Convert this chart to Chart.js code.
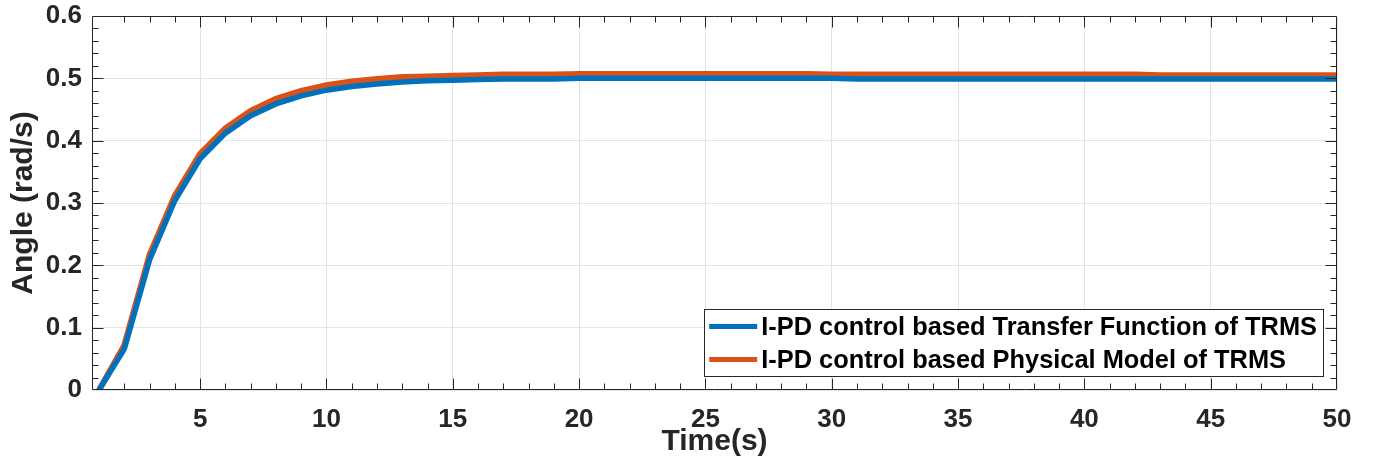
<!DOCTYPE html>
<html>
<head>
<meta charset="utf-8">
<script src="https://cdn.jsdelivr.net/npm/chart.js@4.4.0/dist/chart.umd.min.js"></script>
<style>
    html, body { margin: 0; padding: 0; background: #fff; }
</style>
</head>
<body>
<canvas id="angleChart" width="1373" height="465"></canvas>
<script>
/* data */
const timeValues = [1, 2, 3, 4, 5, 6, 7, 8, 9, 10, 11, 12, 13, 14, 15, 16, 17, 18, 19, 20,
    21, 22, 23, 24, 25, 26, 27, 28, 29, 30, 31, 32, 33, 34, 35, 36, 37, 38, 39, 40,
    41, 42, 43, 44, 45, 46, 47, 48, 49, 50];

const transferFunctionAngle = [0, 0.066, 0.209, 0.304, 0.371, 0.412, 0.440, 0.459, 0.472, 0.481,
    0.487, 0.491, 0.494, 0.496, 0.497, 0.498, 0.499, 0.499, 0.499, 0.500,
    0.500, 0.500, 0.500, 0.500, 0.500, 0.500, 0.500, 0.500, 0.500, 0.500,
    0.499, 0.499, 0.499, 0.499, 0.499, 0.499, 0.499, 0.499, 0.499, 0.499,
    0.499, 0.499, 0.499, 0.499, 0.499, 0.499, 0.499, 0.499, 0.499, 0.499];

const physicalModelAngle = [0, 0.072, 0.217, 0.312, 0.379, 0.420, 0.448, 0.467, 0.480, 0.489,
    0.495, 0.499, 0.502, 0.503, 0.504, 0.505, 0.506, 0.506, 0.506, 0.507,
    0.507, 0.507, 0.507, 0.507, 0.507, 0.507, 0.507, 0.507, 0.507, 0.506,
    0.506, 0.506, 0.506, 0.506, 0.506, 0.506, 0.506, 0.506, 0.506, 0.506,
    0.506, 0.506, 0.505, 0.505, 0.505, 0.505, 0.505, 0.505, 0.505, 0.505];

const seriesLabels = [
    "I-PD control based Transfer Function of TRMS",
    "I-PD control based Physical Model of TRMS"
];
const seriesColors = ["#0072BD", "#D95319"];

const xTickValues = [5, 10, 15, 20, 25, 30, 35, 40, 45, 50];
const yTickValues = [0, 0.1, 0.2, 0.3, 0.4, 0.5, 0.6];
const yTickLabels = ["0", "0.1", "0.2", "0.3", "0.4", "0.5", "0.6"];

/* style */
const fontFamily = "'Liberation Sans', Arial, Helvetica, sans-serif";
const axisColor = "#262626";
const gridColor = "#e3e3e3";

Chart.defaults.font.family = fontFamily;
Chart.defaults.font.weight = "bold";
Chart.defaults.color = axisColor;

/* matlab-like box with inward ticks */
const axesBox = {
    id: "axesBox",
    afterDatasetsDraw(chart) {
        const { ctx, chartArea: a, scales: { x, y } } = chart;
        const left = Math.round(a.left) + 0.5;
        const right = Math.round(a.right) - 0.5;
        const top = Math.round(a.top) + 0.5;
        const bottom = Math.round(a.bottom) - 0.5;

        ctx.save();
        ctx.strokeStyle = axisColor;
        ctx.lineWidth = 1;
        ctx.beginPath();

        for (let t = 2; t < 50; t++) {
            const len = t % 5 === 0 ? 11 : 6;
            const px = Math.round(x.getPixelForValue(t)) + 0.5;
            ctx.moveTo(px, bottom);
            ctx.lineTo(px, bottom - len);
            ctx.moveTo(px, top);
            ctx.lineTo(px, top + len);
        }

        for (let k = 1; k < 30; k++) {
            const len = k % 5 === 0 ? 11 : 6;
            const py = Math.round(y.getPixelForValue(k * 0.02)) + 0.5;
            ctx.moveTo(left, py);
            ctx.lineTo(left + len, py);
            ctx.moveTo(right, py);
            ctx.lineTo(right - len, py);
        }

        ctx.rect(left, top, right - left, bottom - top);
        ctx.stroke();
        ctx.restore();
    }
};

/* legend box inside plot, bottom right */
const insideLegend = {
    id: "insideLegend",
    afterDraw(chart) {
        const { ctx, chartArea: a } = chart;
        const datasets = chart.data.datasets;

        ctx.save();
        ctx.font = `bold 25.4px ${fontFamily}`;
        const textWidth = Math.max(...datasets.map(d => ctx.measureText(d.label).width));

        const boxRight = a.right - 14;
        const boxBottom = a.bottom - 14;
        const boxWidth = 5 + 48 + 4 + textWidth + 6;
        const boxHeight = 67;
        const boxLeft = boxRight - boxWidth;
        const boxTop = boxBottom - boxHeight;

        ctx.fillStyle = "#ffffff";
        ctx.fillRect(boxLeft, boxTop, boxWidth, boxHeight);
        ctx.strokeStyle = axisColor;
        ctx.lineWidth = 1;
        ctx.strokeRect(Math.round(boxLeft) + 0.5, Math.round(boxTop) + 0.5, Math.round(boxWidth), Math.round(boxHeight));

        datasets.forEach((d, i) => {
            const rowY = boxTop + 17.5 + i * 33;
            ctx.strokeStyle = d.borderColor;
            ctx.lineWidth = 5;
            ctx.beginPath();
            ctx.moveTo(boxLeft + 5, rowY);
            ctx.lineTo(boxLeft + 53, rowY);
            ctx.stroke();

            ctx.fillStyle = "#000000";
            ctx.textAlign = "left";
            ctx.textBaseline = "middle";
            ctx.fillText(d.label, boxLeft + 57, rowY + 1);
        });
        ctx.restore();
    }
};

const angleChart = new Chart(document.querySelector("#angleChart"), {
    type: "line",
    data: {
        datasets: [
            {
                label: seriesLabels[0],
                data: timeValues.map((t, i) => ({ x: t, y: transferFunctionAngle[i] })),
                borderColor: seriesColors[0],
                borderWidth: 5.5,
                pointRadius: 0,
                tension: 0
            },
            {
                label: seriesLabels[1],
                data: timeValues.map((t, i) => ({ x: t, y: physicalModelAngle[i] })),
                borderColor: seriesColors[1],
                borderWidth: 6,
                pointRadius: 0,
                tension: 0
            }
        ]
    },
    options: {
        responsive: false,
        animation: false,
        layout: {
            padding: { top: 16, right: 36, left: 0, bottom: 0 }
        },
        plugins: {
            legend: { display: false },
            tooltip: { enabled: false }
        },
        scales: {
            x: {
                type: "linear",
                min: 0.72,
                max: 50,
                afterBuildTicks: scale => {
                    scale.ticks = xTickValues.map(v => ({ value: v }));
                },
                afterFit: scale => {
                    scale.height = 75;
                    scale.paddingLeft = 0;
                    scale.paddingRight = 0;
                },
                grid: { color: gridColor, drawTicks: false },
                border: { display: false },
                ticks: {
                    autoSkip: false,
                    maxRotation: 0,
                    padding: 14,
                    color: axisColor,
                    font: { size: 26, weight: "bold" }
                },
                title: {
                    display: true,
                    text: "Time(s)",
                    color: axisColor,
                    font: { size: 30, weight: "bold" },
                    padding: { top: 0, bottom: 5 }
                }
            },
            y: {
                min: 0,
                max: 0.6,
                afterBuildTicks: scale => {
                    scale.ticks = yTickValues.map(v => ({ value: v }));
                },
                afterFit: scale => {
                    scale.width = 92;
                    scale.paddingTop = 0;
                    scale.paddingBottom = 0;
                },
                grid: { color: gridColor, drawTicks: false },
                border: { display: false },
                ticks: {
                    padding: 10,
                    color: axisColor,
                    font: { size: 26, weight: "bold" },
                    callback: (value, index) => yTickLabels[index]
                },
                title: {
                    display: true,
                    text: "Angle (rad/s)",
                    color: axisColor,
                    font: { size: 30, weight: "bold" },
                    padding: { top: 6, bottom: 0 }
                }
            }
        }
    },
    plugins: [axesBox, insideLegend]
});
</script>
</body>
</html>
